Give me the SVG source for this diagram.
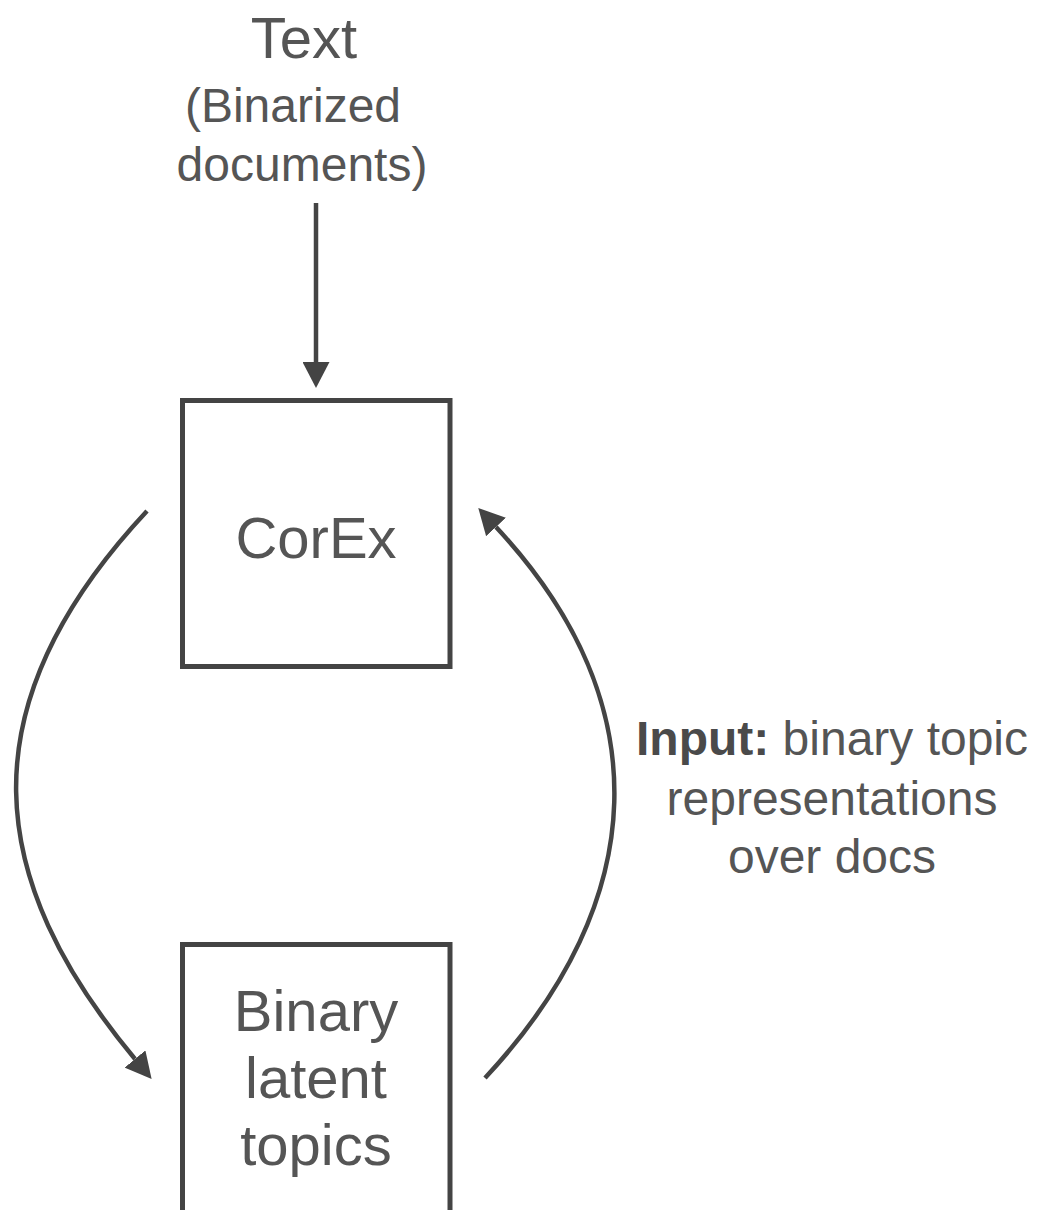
<svg xmlns="http://www.w3.org/2000/svg" width="1040" height="1210" viewBox="0 0 1040 1210">
  <style>
    .box { fill: none; stroke: #444; stroke-width: 5; }
    .conn { fill: none; stroke: #444; stroke-width: 4.5; }
    .t { font-family: "Liberation Sans", Arial, sans-serif; fill: #555; text-anchor: middle; }
    .small { font-size: 48px; }
    .big { font-size: 58px; }
    .b { font-weight: bold; fill: #4a4a4a; }
  </style>
  <defs>
    <marker id="head" markerUnits="userSpaceOnUse" markerWidth="26" markerHeight="27" refX="0" refY="13.5" orient="auto" viewBox="0 0 26 27">
      <path d="M0,0 L26,13.5 L0,27 z" fill="#444"/>
    </marker>
  </defs>
  <rect width="1040" height="1210" fill="#fff"/>

  <g id="text-input">
    <text class="t big" x="304" y="58">Text</text>
    <text class="t small" x="293" y="122">(Binarized</text>
    <text class="t small" x="302" y="181">documents)</text>
  </g>

  <g id="corex">
    <rect class="box" x="182.5" y="400.5" width="267.5" height="266"/>
    <text class="t big" x="316" y="558">CorEx</text>
  </g>

  <g id="binary-latent-topics">
    <rect class="box" x="182.5" y="944.5" width="267.5" height="300"/>
    <text class="t big" x="316" y="1031">Binary</text>
    <text class="t big" x="316" y="1098">latent</text>
    <text class="t big" x="316" y="1165">topics</text>
  </g>

  <g id="input-label">
    <text class="t small" x="832" y="755"><tspan class="b">Input:</tspan> binary topic</text>
    <text class="t small" x="832" y="815">representations</text>
    <text class="t small" x="832" y="873">over docs</text>
  </g>

  <g id="connectors">
    <path class="conn" d="M316,203 L316,362" marker-end="url(#head)"/>
    <path class="conn" d="M147,511 C-37,708 -14,880 135,1059" marker-end="url(#head)"/>
    <path class="conn" d="M485,1078 C650,901 661,704 496,527" marker-end="url(#head)"/>
  </g>
</svg>
